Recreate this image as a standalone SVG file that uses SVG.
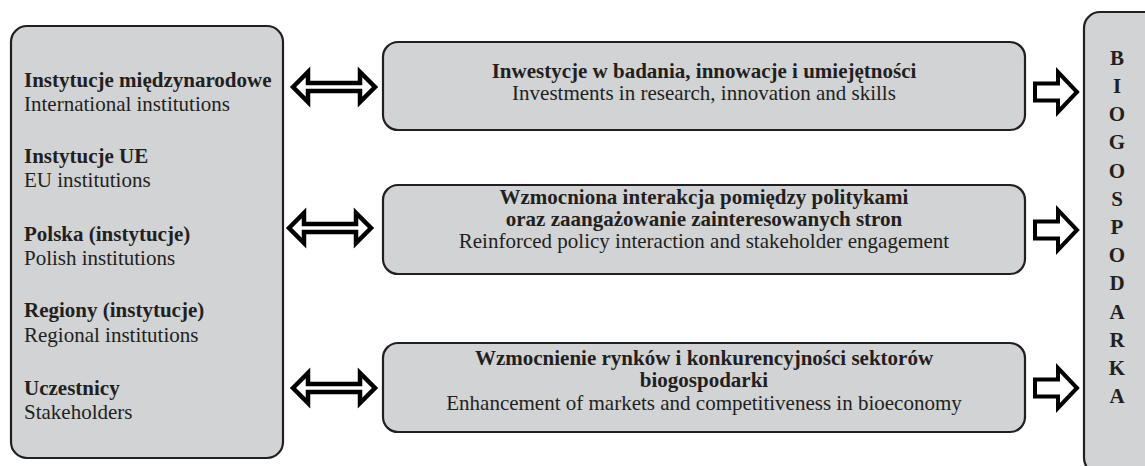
<svg xmlns="http://www.w3.org/2000/svg" width="1145" height="466" viewBox="0 0 1145 466">
<style>
.box{fill:#d1d3d4;stroke:#231f20;stroke-width:2.2}
.t{font-family:"Liberation Serif","Times New Roman",serif;font-size:21px;fill:#231f20}
.b{font-weight:bold}
.c{text-anchor:middle}
.arr{fill:#ffffff;stroke:#000000;stroke-width:4.5;stroke-linejoin:miter;stroke-miterlimit:10}
.arr2{fill:#ffffff;stroke:#000000;stroke-width:4;stroke-linejoin:miter;stroke-miterlimit:10}
</style>
<defs>
<polygon id="dbl" class="arr" points="-41,0 -26,-15 -26,-4 26,-4 26,-15 41,0 26,15 26,4 -26,4 -26,15"/>
<polygon id="rgt" class="arr2" points="-21,-8.5 2,-8.5 2,-20 21,0 2,20 2,8.5 -21,8.5"/>
</defs>
<rect width="1145" height="466" fill="#ffffff"/>
<g id="actors">
<rect class="box" x="11" y="26" width="272" height="432" rx="16"/>
<text class="t b" x="24" y="87">Instytucje międzynarodowe</text>
<text class="t" x="24" y="111">International institutions</text>
<text class="t b" x="24" y="163">Instytucje UE</text>
<text class="t" x="24" y="187">EU institutions</text>
<text class="t b" x="24" y="241">Polska (instytucje)</text>
<text class="t" x="24" y="265">Polish institutions</text>
<text class="t b" x="24" y="317">Regiony (instytucje)</text>
<text class="t" x="24" y="342">Regional institutions</text>
<text class="t b" x="24" y="395">Uczestnicy</text>
<text class="t" x="24" y="419">Stakeholders</text>
</g>
<g id="investments">
<rect class="box" x="383" y="42" width="642" height="88" rx="15"/>
<text class="t b c" x="704" y="78">Inwestycje w badania, innowacje i umiejętności</text>
<text class="t c" x="704" y="100">Investments in research, innovation and skills</text>
</g>
<g id="policy">
<rect class="box" x="383" y="185" width="642" height="89" rx="15"/>
<text class="t b c" x="704" y="204">Wzmocniona interakcja pomiędzy politykami</text>
<text class="t b c" x="704" y="226">oraz zaangażowanie zainteresowanych stron</text>
<text class="t c" x="704" y="248">Reinforced policy interaction and stakeholder engagement</text>
</g>
<g id="markets">
<rect class="box" x="383" y="343" width="642" height="89" rx="15"/>
<text class="t b c" x="704" y="365">Wzmocnienie rynków i konkurencyjności sektorów</text>
<text class="t b c" x="704" y="387">biogospodarki</text>
<text class="t c" x="704" y="410">Enhancement of markets and competitiveness in bioeconomy</text>
</g>
<g id="bioeconomy">
<rect class="box" x="1084" y="12" width="80" height="462" rx="16"/>
<text class="t b c" x="1117" y="65">B</text>
<text class="t b c" x="1117" y="93">I</text>
<text class="t b c" x="1117" y="121">O</text>
<text class="t b c" x="1117" y="149">G</text>
<text class="t b c" x="1117" y="178">O</text>
<text class="t b c" x="1117" y="206">S</text>
<text class="t b c" x="1117" y="234">P</text>
<text class="t b c" x="1117" y="262">O</text>
<text class="t b c" x="1117" y="290">D</text>
<text class="t b c" x="1117" y="319">A</text>
<text class="t b c" x="1117" y="347">R</text>
<text class="t b c" x="1117" y="375">K</text>
<text class="t b c" x="1117" y="403">A</text>
</g>
<g id="connectors">
<use href="#dbl" x="334" y="87"/>
<use href="#dbl" x="330" y="228"/>
<use href="#dbl" x="334" y="388"/>
<use href="#rgt" x="1056" y="92"/>
<use href="#rgt" x="1056" y="230"/>
<use href="#rgt" x="1056" y="388"/>
</g>
</svg>
